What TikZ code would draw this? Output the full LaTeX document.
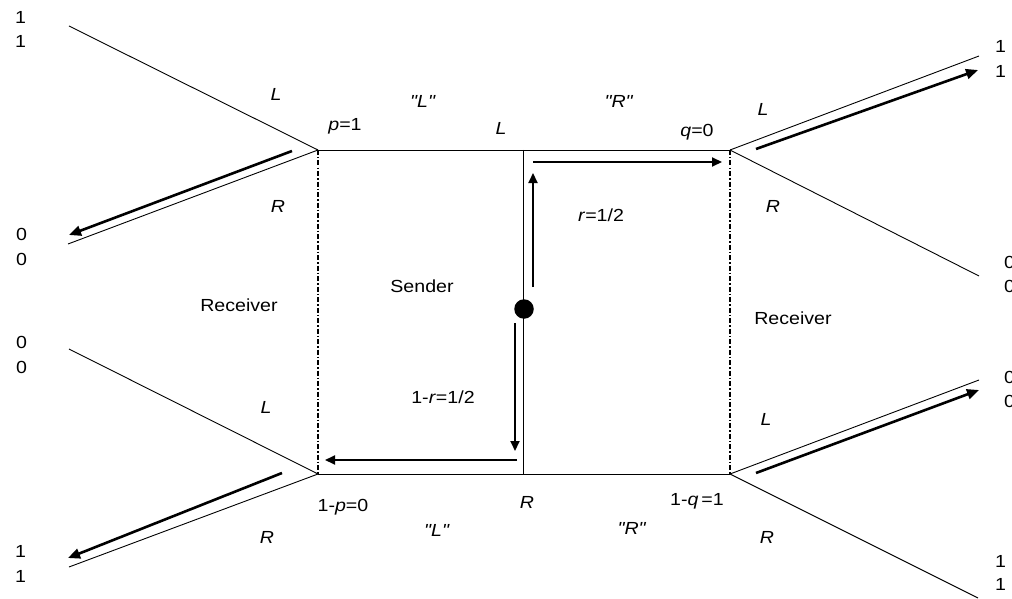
\documentclass[tikz,border=0pt]{standalone}
\usepackage{fontspec}
\newfontfamily\lblfont{Liberation Sans}[FakeStretch=1.12]
\usetikzlibrary{arrows.meta}
\begin{document}
\begin{tikzpicture}[x=1pt,y=-1pt,
  edge/.style={line width=0.9pt, black},
  infoset/.style={line width=1.4pt, dash pattern=on 5pt off 2pt on 1.5pt off 2pt},
  bigarrow/.style={line width=2.6pt, -{Triangle[length=12pt,width=10pt]}},
  midarrow/.style={line width=2pt, -{Triangle[length=10pt,width=9pt]}},
  lbl/.style={font=\lblfont\fontsize{17.5}{20}\selectfont, inner sep=0pt, anchor=base},
  pay/.style={lbl, anchor=base west}]
\useasboundingbox (0,0) rectangle (1012,599);
\fill[white] (0,0) rectangle (1012,599);
% decision points
\coordinate (RLt) at (318,150);
\coordinate (RLb) at (318,474);
\coordinate (RRt) at (730,150);
\coordinate (RRb) at (730,474);
\coordinate (CT) at (523,150);
\coordinate (CB) at (523,474);
% terminals
\coordinate (T1) at (69,26);
\coordinate (T2) at (68,244);
\coordinate (T3) at (69,349);
\coordinate (T4) at (69,567);
\coordinate (T5) at (979,56);
\coordinate (T6) at (979,276);
\coordinate (T7) at (979,380);
\coordinate (T8) at (978,598);
% tree edges
\draw[edge] (RLt) -- (T1);
\draw[edge] (RLt) -- (T2);
\draw[edge] (T3) -- (RLb);
\draw[edge] (RLb) -- (T4);
\draw[edge] (RRt) -- (T5);
\draw[edge] (RRt) -- (T6);
\draw[edge] (RRb) -- (T7);
\draw[edge] (RRb) -- (T8);
\draw[edge] (RLt) -- (RRt);
\draw[edge] (RLb) -- (RRb);
\draw[edge] (CT) -- (CB);
% information sets
\draw[infoset] (RLt) -- (RLb);
\draw[infoset] (RRt) -- (RRb);
% nature
\node[circle, fill=black, minimum size=19.5pt, inner sep=0pt] (N) at (524,309) {};
% thick arrows
\coordinate (a1s) at (292,151); \coordinate (a1e) at (69,235);
\coordinate (a2s) at (282,473); \coordinate (a2e) at (68,558);
\coordinate (a3s) at (756,149); \coordinate (a3e) at (978,70);
\coordinate (a4s) at (756,473); \coordinate (a4e) at (979,390);
\draw[bigarrow] (a1s) -- (a1e);
\draw[bigarrow] (a2s) -- (a2e);
\draw[bigarrow] (a3s) -- (a3e);
\draw[bigarrow] (a4s) -- (a4e);
% medium arrows
\coordinate (m1s) at (533,162); \coordinate (m1e) at (722,162);
\coordinate (m2s) at (533,287); \coordinate (m2e) at (533,173);
\coordinate (m3s) at (515,323); \coordinate (m3e) at (515,451);
\coordinate (m4s) at (517,460); \coordinate (m4e) at (325,460);
\draw[midarrow] (m1s) -- (m1e);
\draw[midarrow] (m2s) -- (m2e);
\draw[midarrow] (m3s) -- (m3e);
\draw[midarrow] (m4s) -- (m4e);
% labels
\node[lbl] (l1) at (276,101) {\textit{L}};
\node[lbl] (l2) at (345,131) {\textit{p}=1};
\node[lbl] (l3) at (423,108) {\textit{"L"}};
\node[lbl] (l4) at (501,135) {\textit{L}};
\node[lbl] (l5) at (619,108) {\textit{"R"}};
\node[lbl] (l6) at (697,137) {\textit{q}=0};
\node[lbl] (l7) at (763,116) {\textit{L}};
\node[lbl] (l8) at (773,212) {\textit{R}};
\node[lbl] (l9) at (601,221) {\textit{r}=1/2};
\node[lbl] (l10) at (422,292) {Sender};
\node[lbl] (l11) at (443,403) {1-\textit{r}=1/2};
\node[lbl] (l12) at (239,311) {Receiver};
\node[lbl] (l13) at (278,212) {\textit{R}};
\node[lbl] (l14) at (266,413) {\textit{L}};
\node[lbl] (l15) at (793,324) {Receiver};
\node[lbl] (l16) at (766,425) {\textit{L}};
\node[lbl] (l17) at (343,511) {1-\textit{p}=0};
\node[lbl] (l18) at (527,508) {\textit{R}};
\node[lbl] (l19) at (437,536) {\textit{"L"}};
\node[lbl] (l20) at (267,543) {\textit{R}};
\node[lbl] (l21) at (697,505) {1-\textit{q}\,=1};
\node[lbl] (l22) at (632,534) {\textit{"R"}};
\node[lbl] (l23) at (767,543) {\textit{R}};
% payoffs
\node[pay] (p1a) at (15,24) {1};
\node[pay] (p1b) at (15,48) {1};
\node[pay] (p2a) at (16,240) {0};
\node[pay] (p2b) at (16,265) {0};
\node[pay] (p3a) at (16,348) {0};
\node[pay] (p3b) at (16,373) {0};
\node[pay] (p4a) at (15,557) {1};
\node[pay] (p4b) at (15,582) {1};
\node[pay] (p5a) at (995,53) {1};
\node[pay] (p5b) at (995,78) {1};
\node[pay] (p6a) at (1004,268) {0};
\node[pay] (p6b) at (1004,292) {0};
\node[pay] (p7a) at (1004,383) {0};
\node[pay] (p7b) at (1004,407) {0};
\node[pay] (p8a) at (995,567) {1};
\node[pay] (p8b) at (995,590) {1};
\end{tikzpicture}
\end{document}
